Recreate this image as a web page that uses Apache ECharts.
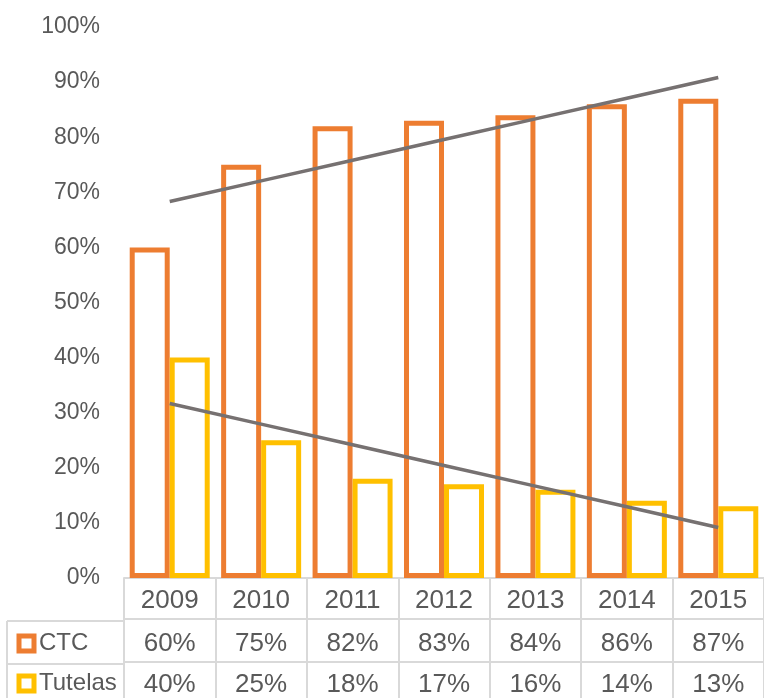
<!DOCTYPE html>
<html>
<head>
<meta charset="utf-8">
<style>
  html, body { margin: 0; padding: 0; background: #ffffff; overflow: hidden; }
  #chart { width: 764px; height: 698px; }
</style>
<script src="https://cdn.jsdelivr.net/npm/echarts@6/dist/echarts.min.js"></script>
</head>
<body>
<div id="chart"></div>
<script>
// Share of cases per year
const years = ['2009', '2010', '2011', '2012', '2013', '2014', '2015'];
const ctc = [0.60, 0.75, 0.82, 0.83, 0.84, 0.86, 0.87];
const tutelas = [0.40, 0.25, 0.18, 0.17, 0.16, 0.14, 0.13];

const FONT = "'Liberation Sans Narrow', 'Arial Narrow', 'Liberation Sans', Arial, sans-serif";
const TEXT = '#595959';
const RULE = '#d9d9d9';
const ORANGE = '#ED7D31';
const YELLOW = '#FFC000';
const TREND = '#767171';
const TABLE_FONT = 26;
const LEGEND_FONT = 24;
const AXIS_FONT = 23;

// Least-squares linear trend evaluated at each category position
function linearTrend(values) {
  const n = values.length;
  const xs = values.map((_, i) => i + 1);
  const mx = xs.reduce((a, b) => a + b, 0) / n;
  const my = values.reduce((a, b) => a + b, 0) / n;
  let sxy = 0, sxx = 0;
  for (let i = 0; i < n; i++) {
    sxy += (xs[i] - mx) * (values[i] - my);
    sxx += (xs[i] - mx) * (xs[i] - mx);
  }
  const slope = sxy / sxx;
  const icpt = my - slope * mx;
  return xs.map(x => icpt + slope * x);
}

const pct = v => Math.round(v * 100) + '%';

const chart = echarts.init(document.getElementById('chart'), null, { renderer: 'canvas' });

// Category axes stacked below the plot form the rows of the data table
function tableAxis(offset, rowHeight, labels, margin) {
  return {
    type: 'category',
    data: years,
    position: 'bottom',
    offset: offset,
    gridIndex: 0,
    boundaryGap: true,
    axisLine: { show: true, lineStyle: { color: RULE, width: 2 } },
    axisTick: { show: true, length: rowHeight, interval: 0, lineStyle: { color: RULE, width: 2 } },
    axisLabel: {
      show: true,
      interval: 0,
      margin: margin,
      color: TEXT,
      fontFamily: FONT,
      fontSize: TABLE_FONT,
      formatter: (val, idx) => labels[idx]
    },
    splitLine: { show: false }
  };
}

// One legend per table row, keys drawn as hollow squares
function rowLegend(name, colour, top) {
  return {
    data: [name],
    orient: 'vertical',
    left: 16.5,
    top: top,
    padding: 0,
    itemWidth: 15,
    itemHeight: 15,
    icon: 'rect',
    selectedMode: false,
    itemStyle: { color: '#ffffff', borderColor: colour, borderWidth: 5 },
    textStyle: { color: TEXT, fontFamily: FONT, fontSize: LEGEND_FONT, lineHeight: 15 }
  };
}

const option = {
  animation: false,
  backgroundColor: '#ffffff',
  grid: { left: 124, top: 27, width: 651, height: 553, containLabel: false },
  legend: [
    rowLegend('CTC', ORANGE, 631.5),
    rowLegend('Tutelas', YELLOW, 671.5)
  ],
  xAxis: [
    tableAxis(0, 41, years, 10),
    tableAxis(41, 43, ctc.map(pct), 12),
    tableAxis(84, 41, tutelas.map(pct), 10)
  ],
  yAxis: {
    type: 'value',
    min: 0,
    max: 1,
    interval: 0.1,
    axisLine: { show: false },
    axisTick: { show: false },
    splitLine: { show: false },
    axisLabel: {
      margin: 24,
      color: TEXT,
      fontFamily: FONT,
      fontSize: AXIS_FONT,
      formatter: v => Math.round(v * 100) + '%'
    }
  },
  series: [
    {
      name: 'CTC',
      type: 'bar',
      data: ctc,
      barWidth: 40,
      barGap: 0,
      itemStyle: { color: '#ffffff', borderColor: ORANGE, borderWidth: 5 },
      z: 2
    },
    {
      name: 'Tutelas',
      type: 'bar',
      data: tutelas,
      barWidth: 40,
      barGap: 0,
      itemStyle: { color: '#ffffff', borderColor: YELLOW, borderWidth: 5 },
      z: 2
    },
    {
      name: 'Tendencia CTC',
      type: 'line',
      data: linearTrend(ctc),
      symbol: 'none',
      lineStyle: { color: TREND, width: 3.5 },
      z: 4
    },
    {
      name: 'Tendencia Tutelas',
      type: 'line',
      data: linearTrend(tutelas),
      symbol: 'none',
      lineStyle: { color: TREND, width: 3.5 },
      z: 4
    }
  ],
  graphic: [
    // left column of the data table, next to the legend keys
    { type: 'line', shape: { x1: 7, y1: 621, x2: 124, y2: 621 }, style: { stroke: RULE, lineWidth: 2 }, silent: true },
    { type: 'line', shape: { x1: 7, y1: 664, x2: 124, y2: 664 }, style: { stroke: RULE, lineWidth: 2 }, silent: true },
    { type: 'line', shape: { x1: 7, y1: 621, x2: 7, y2: 698 }, style: { stroke: RULE, lineWidth: 2 }, silent: true }
  ]
};

chart.setOption(option);
</script>
</body>
</html>
